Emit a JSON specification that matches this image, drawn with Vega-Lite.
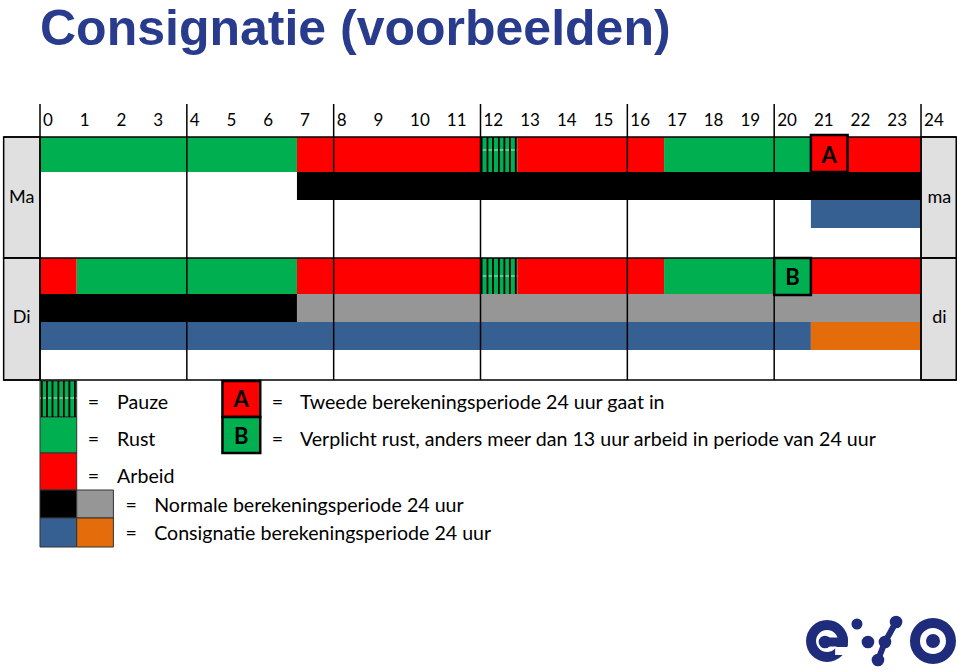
{
  "$schema": "https://vega.github.io/schema/vega-lite/v6.json",
  "width": 960,
  "height": 671,
  "padding": 0,
  "autosize": "none",
  "background": "white",
  "config": {"view": {"stroke": null}},
  "datasets": {
    "segments": [
      {"dag": "Ma", "soort": "Rust", "h": 0, "h2": 7, "v": 137, "v2": 172},
      {"dag": "Ma", "soort": "Arbeid", "h": 7, "h2": 12, "v": 137, "v2": 172},
      {"dag": "Ma", "soort": "Pauze", "h": 12, "h2": 13, "v": 137, "v2": 172},
      {"dag": "Ma", "soort": "Arbeid", "h": 13, "h2": 17, "v": 137, "v2": 172},
      {"dag": "Ma", "soort": "Rust", "h": 17, "h2": 21, "v": 137, "v2": 172},
      {"dag": "Ma", "soort": "Arbeid", "h": 21, "h2": 24, "v": 137, "v2": 172},
      {"dag": "Ma", "soort": "Normaal", "h": 7, "h2": 24, "v": 172, "v2": 200},
      {"dag": "Ma", "soort": "Consignatie", "h": 21, "h2": 24, "v": 200, "v2": 228},
      {"dag": "Di", "soort": "Arbeid", "h": 0, "h2": 1, "v": 258, "v2": 294},
      {"dag": "Di", "soort": "Rust", "h": 1, "h2": 7, "v": 258, "v2": 294},
      {"dag": "Di", "soort": "Arbeid", "h": 7, "h2": 12, "v": 258, "v2": 294},
      {"dag": "Di", "soort": "Pauze", "h": 12, "h2": 13, "v": 258, "v2": 294},
      {"dag": "Di", "soort": "Arbeid", "h": 13, "h2": 17, "v": 258, "v2": 294},
      {"dag": "Di", "soort": "Rust", "h": 17, "h2": 21, "v": 258, "v2": 294},
      {"dag": "Di", "soort": "Arbeid", "h": 21, "h2": 24, "v": 258, "v2": 294},
      {"dag": "Di", "soort": "Normaal", "h": 0, "h2": 7, "v": 294, "v2": 322},
      {"dag": "Di", "soort": "Normaal (vervolg)", "h": 7, "h2": 24, "v": 294, "v2": 322},
      {"dag": "Di", "soort": "Consignatie", "h": 0, "h2": 21, "v": 322, "v2": 350},
      {"dag": "Di", "soort": "Consignatie (vervolg)", "h": 21, "h2": 24, "v": 322, "v2": 350}
    ],
    "days": [
      {"dag": "Ma", "h": -0.99, "h2": 0, "v": 137, "v2": 258, "hm": -0.5, "vm": 198},
      {"dag": "ma", "h": 24, "h2": 24.96, "v": 137, "v2": 258, "hm": 24.5, "vm": 198},
      {"dag": "Di", "h": -0.99, "h2": 0, "v": 258, "v2": 380, "hm": -0.5, "vm": 318},
      {"dag": "di", "h": 24, "h2": 24.96, "v": 258, "v2": 380, "hm": 24.5, "vm": 318}
    ],
    "frame": [
      {"h": -0.99, "h2": 24.96, "v": 137},
      {"h": -0.99, "h2": 24.96, "v": 258},
      {"h": -0.99, "h2": 24.96, "v": 380}
    ],
    "grid": [
      {"h": 0, "v": 104, "v2": 380},
      {"h": 4, "v": 104, "v2": 380},
      {"h": 8, "v": 104, "v2": 380},
      {"h": 12, "v": 104, "v2": 380},
      {"h": 16, "v": 104, "v2": 380},
      {"h": 20, "v": 104, "v2": 380},
      {"h": 24, "v": 104, "v2": 380}
    ],
    "hours": [
      {"h": 0}, {"h": 1}, {"h": 2}, {"h": 3}, {"h": 4}, {"h": 5}, {"h": 6}, {"h": 7}, {"h": 8},
      {"h": 9}, {"h": 10}, {"h": 11}, {"h": 12}, {"h": 13}, {"h": 14}, {"h": 15}, {"h": 16},
      {"h": 17}, {"h": 18}, {"h": 19}, {"h": 20}, {"h": 21}, {"h": 22}, {"h": 23}, {"h": 24}
    ],
    "pauseLines": [
      {"h": 12, "h2": 13, "v": 150},
      {"h": 12, "h2": 13, "v": 276},
      {"h": 0, "h2": 1, "v": 398}
    ],
    "stripes": [
      {"h": 12.03, "v": 137, "v2": 172}, {"h": 12.19, "v": 137, "v2": 172}, {"h": 12.34, "v": 137, "v2": 172},
      {"h": 12.5, "v": 137, "v2": 172}, {"h": 12.65, "v": 137, "v2": 172}, {"h": 12.8, "v": 137, "v2": 172},
      {"h": 12.96, "v": 137, "v2": 172},
      {"h": 12.03, "v": 258, "v2": 294}, {"h": 12.19, "v": 258, "v2": 294}, {"h": 12.34, "v": 258, "v2": 294},
      {"h": 12.5, "v": 258, "v2": 294}, {"h": 12.65, "v": 258, "v2": 294}, {"h": 12.8, "v": 258, "v2": 294},
      {"h": 12.96, "v": 258, "v2": 294},
      {"h": 0.05, "v": 381, "v2": 417}, {"h": 0.19, "v": 381, "v2": 417}, {"h": 0.34, "v": 381, "v2": 417},
      {"h": 0.5, "v": 381, "v2": 417}, {"h": 0.65, "v": 381, "v2": 417}, {"h": 0.8, "v": 381, "v2": 417},
      {"h": 0.95, "v": 381, "v2": 417}
    ],
    "boxes": [
      {"letter": "A", "soort": "Arbeid", "h": 21, "h2": 22, "v": 135, "v2": 172, "hm": 21.5, "vm": 156},
      {"letter": "B", "soort": "Rust", "h": 20, "h2": 21, "v": 258, "v2": 295, "hm": 20.5, "vm": 278},
      {"letter": "A", "soort": "Arbeid", "h": 4.97, "h2": 6, "v": 381, "v2": 417, "hm": 5.48, "vm": 400},
      {"letter": "B", "soort": "Rust", "h": 4.97, "h2": 6, "v": 417, "v2": 453, "hm": 5.48, "vm": 437}
    ],
    "swatches": [
      {"soort": "Pauze", "h": 0, "h2": 1, "v": 381, "v2": 417},
      {"soort": "Rust", "h": 0, "h2": 1, "v": 417, "v2": 453},
      {"soort": "Arbeid", "h": 0, "h2": 1, "v": 453, "v2": 490},
      {"soort": "Normaal", "h": 0, "h2": 1, "v": 490, "v2": 518},
      {"soort": "Normaal (vervolg)", "h": 1, "h2": 2, "v": 490, "v2": 518},
      {"soort": "Consignatie", "h": 0, "h2": 1, "v": 518, "v2": 547},
      {"soort": "Consignatie (vervolg)", "h": 1, "h2": 2, "v": 518, "v2": 547}
    ],
    "legendText": [
      {"t": "=", "h": 1.3, "v": 403},
      {"t": "Pauze", "h": 2.1, "v": 403},
      {"t": "=", "h": 1.3, "v": 440},
      {"t": "Rust", "h": 2.1, "v": 440},
      {"t": "=", "h": 1.3, "v": 477},
      {"t": "Arbeid", "h": 2.1, "v": 477},
      {"t": "=", "h": 2.33, "v": 506},
      {"t": "Normale berekeningsperiode 24 uur", "h": 3.11, "v": 506},
      {"t": "=", "h": 2.33, "v": 534},
      {"t": "Consignatie berekeningsperiode 24 uur", "h": 3.11, "v": 534},
      {"t": "=", "h": 6.31, "v": 403},
      {"t": "Tweede berekeningsperiode 24 uur gaat in", "h": 7.08, "v": 403},
      {"t": "=", "h": 6.31, "v": 440},
      {"t": "Verplicht rust, anders meer dan 13 uur arbeid in periode van 24 uur", "h": 7.08, "v": 440}
    ],
    "title": [
      {"t": "Consignatie (voorbeelden)", "h": 0, "v": 45}
    ],
    "logo": [
      {"deel": "e-ring", "h": 21.44, "v": 641},
      {"deel": "o-ring", "h": 24.326, "v": 641},
      {"deel": "o-dot", "h": 24.326, "v": 641},
      {"deel": "e-dot", "h": 21.384, "v": 642},
      {"deel": "dot-s", "h": 22.255, "v": 624},
      {"deel": "dot", "h": 22.555, "v": 642},
      {"deel": "dot", "h": 23.018, "v": 642},
      {"deel": "dot", "h": 23.32, "v": 622},
      {"deel": "dot", "h": 22.827, "v": 660}
    ],
    "logoLines": [
      {"deel": "e-bar", "h": 21.384, "v": 642, "h2": 22.0, "v2": 642},
      {"deel": "v-line", "h": 23.32, "v": 622, "h2": 23.018, "v2": 642},
      {"deel": "v-line", "h": 23.018, "v": 642, "h2": 22.827, "v2": 660}
    ],
    "logoGap": [
      {"h": 21.66, "h2": 22.15, "v": 647, "v2": 655}
    ]
  },
  "layer": [
    {
      "data": {"name": "segments"},
      "mark": {"type": "rect"},
      "encoding": {
        "x": {"field": "h", "type": "quantitative", "scale": {"domain": [-1.0896, 25.062], "nice": false, "zero": false}, "axis": null},
        "x2": {"field": "h2"},
        "y": {"field": "v", "type": "quantitative", "scale": {"domain": [0, 671], "reverse": true, "nice": false, "zero": false}, "axis": null},
        "y2": {"field": "v2"},
        "color": {
          "field": "soort", "type": "nominal", "legend": null,
          "scale": {
            "domain": ["Rust", "Arbeid", "Pauze", "Normaal", "Normaal (vervolg)", "Consignatie", "Consignatie (vervolg)"],
            "range": ["#00B050", "#FF0000", "#00B050", "#000000", "#969696", "#376092", "#E46C0A"]
          }
        }
      }
    },
    {
      "data": {"name": "days"},
      "mark": {"type": "rect", "fill": "#E0E0E0", "stroke": "#000000", "strokeWidth": 1.5},
      "encoding": {
        "x": {"field": "h", "type": "quantitative", "scale": {"domain": [-1.0896, 25.062], "nice": false, "zero": false}, "axis": null},
        "x2": {"field": "h2"},
        "y": {"field": "v", "type": "quantitative", "scale": {"domain": [0, 671], "reverse": true, "nice": false, "zero": false}, "axis": null},
        "y2": {"field": "v2"}
      }
    },
    {
      "data": {"name": "swatches"},
      "mark": {"type": "rect", "stroke": "#333333", "strokeWidth": 1},
      "encoding": {
        "x": {"field": "h", "type": "quantitative", "scale": {"domain": [-1.0896, 25.062], "nice": false, "zero": false}, "axis": null},
        "x2": {"field": "h2"},
        "y": {"field": "v", "type": "quantitative", "scale": {"domain": [0, 671], "reverse": true, "nice": false, "zero": false}, "axis": null},
        "y2": {"field": "v2"},
        "color": {"field": "soort", "type": "nominal", "legend": null}
      }
    },
    {
      "data": {"name": "pauseLines"},
      "mark": {"type": "rule", "color": "#BFEBCB", "strokeWidth": 1},
      "encoding": {
        "x": {"field": "h", "type": "quantitative", "scale": {"domain": [-1.0896, 25.062], "nice": false, "zero": false}, "axis": null},
        "x2": {"field": "h2"},
        "y": {"field": "v", "type": "quantitative", "scale": {"domain": [0, 671], "reverse": true, "nice": false, "zero": false}, "axis": null}
      }
    },
    {
      "data": {"name": "stripes"},
      "mark": {"type": "rule", "color": "#000000", "strokeWidth": 1.8},
      "encoding": {
        "x": {"field": "h", "type": "quantitative", "scale": {"domain": [-1.0896, 25.062], "nice": false, "zero": false}, "axis": null},
        "y": {"field": "v", "type": "quantitative", "scale": {"domain": [0, 671], "reverse": true, "nice": false, "zero": false}, "axis": null},
        "y2": {"field": "v2"}
      }
    },
    {
      "data": {"name": "frame"},
      "mark": {"type": "rule", "color": "#000000", "strokeWidth": 1.5},
      "encoding": {
        "x": {"field": "h", "type": "quantitative", "scale": {"domain": [-1.0896, 25.062], "nice": false, "zero": false}, "axis": null},
        "x2": {"field": "h2"},
        "y": {"field": "v", "type": "quantitative", "scale": {"domain": [0, 671], "reverse": true, "nice": false, "zero": false}, "axis": null}
      }
    },
    {
      "data": {"name": "grid"},
      "mark": {"type": "rule", "color": "#000000", "strokeWidth": 1.5},
      "encoding": {
        "x": {"field": "h", "type": "quantitative", "scale": {"domain": [-1.0896, 25.062], "nice": false, "zero": false}, "axis": null},
        "y": {"field": "v", "type": "quantitative", "scale": {"domain": [0, 671], "reverse": true, "nice": false, "zero": false}, "axis": null},
        "y2": {"field": "v2"}
      }
    },
    {
      "data": {"name": "boxes"},
      "mark": {"type": "rect", "stroke": "#000000", "strokeWidth": 2.5},
      "encoding": {
        "x": {"field": "h", "type": "quantitative", "scale": {"domain": [-1.0896, 25.062], "nice": false, "zero": false}, "axis": null},
        "x2": {"field": "h2"},
        "y": {"field": "v", "type": "quantitative", "scale": {"domain": [0, 671], "reverse": true, "nice": false, "zero": false}, "axis": null},
        "y2": {"field": "v2"},
        "color": {"field": "soort", "type": "nominal", "legend": null}
      }
    },
    {
      "data": {"name": "boxes"},
      "mark": {"type": "text", "font": "Lato", "fontWeight": "bold", "fontSize": 22, "align": "center", "baseline": "middle", "color": "#000000"},
      "encoding": {
        "x": {"field": "hm", "type": "quantitative", "scale": {"domain": [-1.0896, 25.062], "nice": false, "zero": false}, "axis": null},
        "y": {"field": "vm", "type": "quantitative", "scale": {"domain": [0, 671], "reverse": true, "nice": false, "zero": false}, "axis": null},
        "text": {"field": "letter"}
      }
    },
    {
      "data": {"name": "days"},
      "mark": {"type": "text", "font": "Lato", "fontSize": 18, "align": "center", "baseline": "middle", "color": "#000000"},
      "encoding": {
        "x": {"field": "hm", "type": "quantitative", "scale": {"domain": [-1.0896, 25.062], "nice": false, "zero": false}, "axis": null},
        "y": {"field": "vm", "type": "quantitative", "scale": {"domain": [0, 671], "reverse": true, "nice": false, "zero": false}, "axis": null},
        "text": {"field": "dag"}
      }
    },
    {
      "data": {"name": "hours"},
      "mark": {"type": "text", "font": "Lato", "fontSize": 17, "align": "left", "baseline": "middle", "dx": 3, "color": "#000000"},
      "encoding": {
        "x": {"field": "h", "type": "quantitative", "scale": {"domain": [-1.0896, 25.062], "nice": false, "zero": false}, "axis": null},
        "y": {"datum": 121, "type": "quantitative", "scale": {"domain": [0, 671], "reverse": true, "nice": false, "zero": false}, "axis": null},
        "text": {"field": "h", "type": "quantitative", "format": "d"}
      }
    },
    {
      "data": {"name": "legendText"},
      "mark": {"type": "text", "font": "Lato", "fontSize": 19.6, "align": "left", "baseline": "middle", "color": "#000000"},
      "encoding": {
        "x": {"field": "h", "type": "quantitative", "scale": {"domain": [-1.0896, 25.062], "nice": false, "zero": false}, "axis": null},
        "y": {"field": "v", "type": "quantitative", "scale": {"domain": [0, 671], "reverse": true, "nice": false, "zero": false}, "axis": null},
        "text": {"field": "t"}
      }
    },
    {
      "data": {"name": "title"},
      "mark": {"type": "text", "font": "Liberation Sans", "fontWeight": "bold", "fontSize": 50, "align": "left", "baseline": "alphabetic", "color": "#283B8C"},
      "encoding": {
        "x": {"field": "h", "type": "quantitative", "scale": {"domain": [-1.0896, 25.062], "nice": false, "zero": false}, "axis": null},
        "y": {"field": "v", "type": "quantitative", "scale": {"domain": [0, 671], "reverse": true, "nice": false, "zero": false}, "axis": null},
        "text": {"field": "t"}
      }
    },
    {
      "data": {"name": "logo"},
      "transform": [{"filter": "datum.deel == 'e-ring'"}],
      "mark": {"type": "point", "shape": "circle", "filled": false, "size": 1024, "strokeWidth": 10, "color": "#1F2B7B", "opacity": 1},
      "encoding": {
        "x": {"field": "h", "type": "quantitative", "scale": {"domain": [-1.0896, 25.062], "nice": false, "zero": false}, "axis": null},
        "y": {"field": "v", "type": "quantitative", "scale": {"domain": [0, 671], "reverse": true, "nice": false, "zero": false}, "axis": null}
      }
    },
    {
      "data": {"name": "logoGap"},
      "mark": {"type": "rect", "fill": "#FFFFFF"},
      "encoding": {
        "x": {"field": "h", "type": "quantitative", "scale": {"domain": [-1.0896, 25.062], "nice": false, "zero": false}, "axis": null},
        "x2": {"field": "h2"},
        "y": {"field": "v", "type": "quantitative", "scale": {"domain": [0, 671], "reverse": true, "nice": false, "zero": false}, "axis": null},
        "y2": {"field": "v2"}
      }
    },
    {
      "data": {"name": "logoLines"},
      "transform": [{"filter": "datum.deel == 'e-bar'"}],
      "mark": {"type": "rule", "color": "#1F2B7B", "strokeWidth": 9},
      "encoding": {
        "x": {"field": "h", "type": "quantitative", "scale": {"domain": [-1.0896, 25.062], "nice": false, "zero": false}, "axis": null},
        "x2": {"field": "h2"},
        "y": {"field": "v", "type": "quantitative", "scale": {"domain": [0, 671], "reverse": true, "nice": false, "zero": false}, "axis": null},
        "y2": {"field": "v2"}
      }
    },
    {
      "data": {"name": "logoLines"},
      "transform": [{"filter": "datum.deel == 'v-line'"}],
      "mark": {"type": "rule", "color": "#1F2B7B", "strokeWidth": 6},
      "encoding": {
        "x": {"field": "h", "type": "quantitative", "scale": {"domain": [-1.0896, 25.062], "nice": false, "zero": false}, "axis": null},
        "x2": {"field": "h2"},
        "y": {"field": "v", "type": "quantitative", "scale": {"domain": [0, 671], "reverse": true, "nice": false, "zero": false}, "axis": null},
        "y2": {"field": "v2"}
      }
    },
    {
      "data": {"name": "logo"},
      "transform": [{"filter": "datum.deel == 'o-ring'"}],
      "mark": {"type": "point", "shape": "circle", "filled": false, "size": 1296, "strokeWidth": 10, "color": "#1F2B7B", "opacity": 1},
      "encoding": {
        "x": {"field": "h", "type": "quantitative", "scale": {"domain": [-1.0896, 25.062], "nice": false, "zero": false}, "axis": null},
        "y": {"field": "v", "type": "quantitative", "scale": {"domain": [0, 671], "reverse": true, "nice": false, "zero": false}, "axis": null}
      }
    },
    {
      "data": {"name": "logo"},
      "transform": [{"filter": "datum.deel == 'o-dot'"}],
      "mark": {"type": "point", "shape": "circle", "filled": true, "size": 196, "color": "#1F2B7B", "opacity": 1},
      "encoding": {
        "x": {"field": "h", "type": "quantitative", "scale": {"domain": [-1.0896, 25.062], "nice": false, "zero": false}, "axis": null},
        "y": {"field": "v", "type": "quantitative", "scale": {"domain": [0, 671], "reverse": true, "nice": false, "zero": false}, "axis": null}
      }
    },
    {
      "data": {"name": "logo"},
      "transform": [{"filter": "datum.deel == 'e-dot' || datum.deel == 'dot'"}],
      "mark": {"type": "point", "shape": "circle", "filled": true, "size": 160, "color": "#1F2B7B", "opacity": 1},
      "encoding": {
        "x": {"field": "h", "type": "quantitative", "scale": {"domain": [-1.0896, 25.062], "nice": false, "zero": false}, "axis": null},
        "y": {"field": "v", "type": "quantitative", "scale": {"domain": [0, 671], "reverse": true, "nice": false, "zero": false}, "axis": null}
      }
    },
    {
      "data": {"name": "logo"},
      "transform": [{"filter": "datum.deel == 'dot-s'"}],
      "mark": {"type": "point", "shape": "circle", "filled": true, "size": 121, "color": "#1F2B7B", "opacity": 1},
      "encoding": {
        "x": {"field": "h", "type": "quantitative", "scale": {"domain": [-1.0896, 25.062], "nice": false, "zero": false}, "axis": null},
        "y": {"field": "v", "type": "quantitative", "scale": {"domain": [0, 671], "reverse": true, "nice": false, "zero": false}, "axis": null}
      }
    }
  ]
}
